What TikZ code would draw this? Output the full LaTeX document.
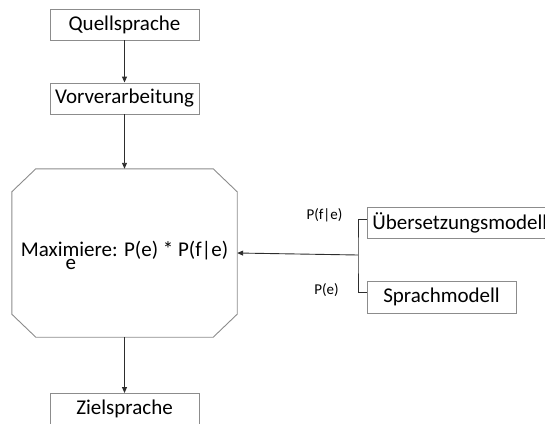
\documentclass[tikz,border=0pt]{standalone}
\usepackage{fontspec}
\setmainfont{Carlito}
\usetikzlibrary{arrows.meta}
\definecolor{boxgray}{RGB}{140,140,140}
\definecolor{linegray}{RGB}{45,45,45}
\tikzset{
  boxnode/.style={draw=boxgray, line width=0.9pt, rectangle, minimum height=31pt, inner sep=0pt, font=\fontsize{21}{25}\selectfont, text=black},
  conn/.style={draw=linegray, line width=0.9pt},
  arr/.style={conn, -{Triangle[length=6pt,width=5pt]}},
  lbl/.style={font=\fontsize{15}{18}\selectfont, inner sep=0pt, text=black}
}
\begin{document}
\begin{tikzpicture}[x=1pt,y=-1pt]
\useasboundingbox (0,0) rectangle (545,423);
\clip (0,0) rectangle (545,423);
\node[boxnode, minimum width=149pt] (qs) at (124.5,24.5) {Quellsprache};
\node[boxnode, minimum width=149pt] (vv) at (124.5,98.5) {Vorverarbeitung};
\node[rectangle, minimum width=225pt, minimum height=168pt, inner sep=0pt] (oct) at (124.5,253) {};
\draw[draw=boxgray, line width=0.9pt]
  ([xshift=24pt]oct.north west) -- ([xshift=-24pt]oct.north east)
  -- ([yshift=-23pt]oct.north east) -- ([yshift=23pt]oct.south east)
  -- ([xshift=-24pt]oct.south east) -- ([xshift=24pt]oct.south west)
  -- ([yshift=23pt]oct.south west) -- ([yshift=-23pt]oct.north west) -- cycle;
\node[font=\fontsize{21}{25}\selectfont, inner sep=0pt] (mx) at (124.5,255)
  {Maxi\makebox[0pt][l]{\raisebox{-13pt}{\hspace{3pt}e}}miere: P(e) * P(f|e)};
\node[boxnode, minimum width=149pt, anchor=north] (zs) at (124.5,393) {Zielsprache};
\node[boxnode, anchor=west, inner xsep=5pt] (ue) at (367,222.5) {Übersetzungsmodell};
\node[boxnode, minimum width=149pt, minimum height=32pt] (sm) at (441.5,297) {Sprachmodell};
\coordinate (j) at (358,255);
\draw[conn] ([yshift=3.5pt]ue.west) -| (j) |- ([yshift=5pt]sm.west);
\draw[arr] (j) -- (oct.east);
\draw[arr] (qs) -- (vv);
\draw[arr] (vv) -- (oct.north);
\draw[arr] (oct.south) -- (zs.north);
\node[lbl] (lpf) at (324.5,215) {P(f|e)};
\node[lbl] (lpe) at (326.5,290) {P(e)};
\end{tikzpicture}
\end{document}
